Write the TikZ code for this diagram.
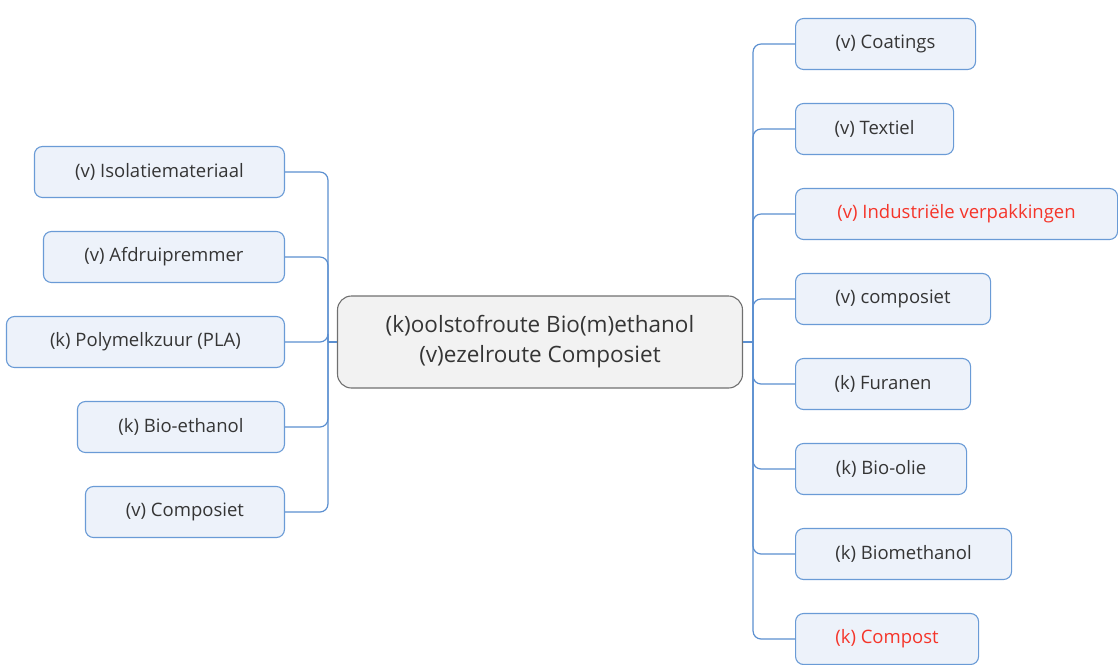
\documentclass[tikz,border=0pt]{standalone}
\usepackage{fontspec}
\setmainfont{Open Sans}
\usepackage{tikz}
\usetikzlibrary{positioning}

\definecolor{linkblue}{HTML}{5B8FD0}
\definecolor{leafblue}{HTML}{EDF2FA}
\definecolor{leafedge}{HTML}{6A9BD6}
\definecolor{hubgray}{HTML}{F2F2F2}
\definecolor{hubedge}{HTML}{707070}
\definecolor{txtgray}{HTML}{353535}
\definecolor{txtred}{HTML}{F5352A}

\tikzset{
  leaf/.style={draw=leafedge, fill=leafblue, rounded corners=8pt, line width=1.1pt,
    minimum height=51pt, text=txtgray, font=\fontsize{18.5}{22}\selectfont, inner sep=0pt},
  hub/.style={draw=hubedge, fill=hubgray, rounded corners=14pt, line width=1.1pt,
    minimum width=405pt, minimum height=92pt, text=txtgray, align=center,
    font=\fontsize{22.5}{30}\selectfont},
  link/.style={draw=linkblue, line width=1.2pt, rounded corners=8pt},
  hot/.style={text=txtred}
}

\begin{document}
\begin{tikzpicture}[x=1pt,y=-1pt]
\useasboundingbox (0,0) rectangle (1118,664);
\node[hub] (hub) at (540,342) {(k)oolstofroute Bio(m)ethanol\\(v)ezelroute Composiet};

% left side
\node[leaf, anchor=east, minimum width=250pt] (isol) at (285,172) {(v) Isolatiemateriaal};
\node[leaf, anchor=east, minimum width=241pt] (afdr) at (285,257) {(v) Afdruipremmer};
\node[leaf, anchor=east, minimum width=278pt] (pla)  at (285,342) {(k) Polymelkzuur (PLA)};
\node[leaf, anchor=east, minimum width=207pt] (bioe) at (285,427) {(k) Bio-ethanol};
\node[leaf, anchor=east, minimum width=199pt] (compl) at (285,512) {(v) Composiet};

% right side
\node[leaf, anchor=west, minimum width=180pt] (coat) at (795,44)  {(v) Coatings};
\node[leaf, anchor=west, minimum width=158pt] (text) at (795,129) {(v) Textiel};
\node[leaf, hot, anchor=west, minimum width=322pt] (indu) at (795,214) {(v) Industriële verpakkingen};
\node[leaf, anchor=west, minimum width=195pt] (compr) at (795,299) {(v) composiet};
\node[leaf, anchor=west, minimum width=175pt] (fura) at (795,384) {(k) Furanen};
\node[leaf, anchor=west, minimum width=171pt] (bioo) at (795,469) {(k) Bio-olie};
\node[leaf, anchor=west, minimum width=216pt] (biom) at (795,554) {(k) Biomethanol};
\node[leaf, hot, anchor=west, minimum width=183pt] (comp) at (795,639) {(k) Compost};

% connectors
\coordinate (ljoin) at ([xshift=-9pt]hub.west);
\coordinate (rjoin) at ([xshift=10pt]hub.east);
\draw[link] (hub.west) -- (ljoin);
\draw[link] (hub.east) -- (rjoin);
\foreach \n in {isol,afdr,pla,bioe,compl}
  \draw[link] (ljoin) |- (\n.east);
\foreach \n in {coat,text,indu,compr,fura,bioo,biom,comp}
  \draw[link] (rjoin) |- (\n.west);
\end{tikzpicture}
\end{document}
